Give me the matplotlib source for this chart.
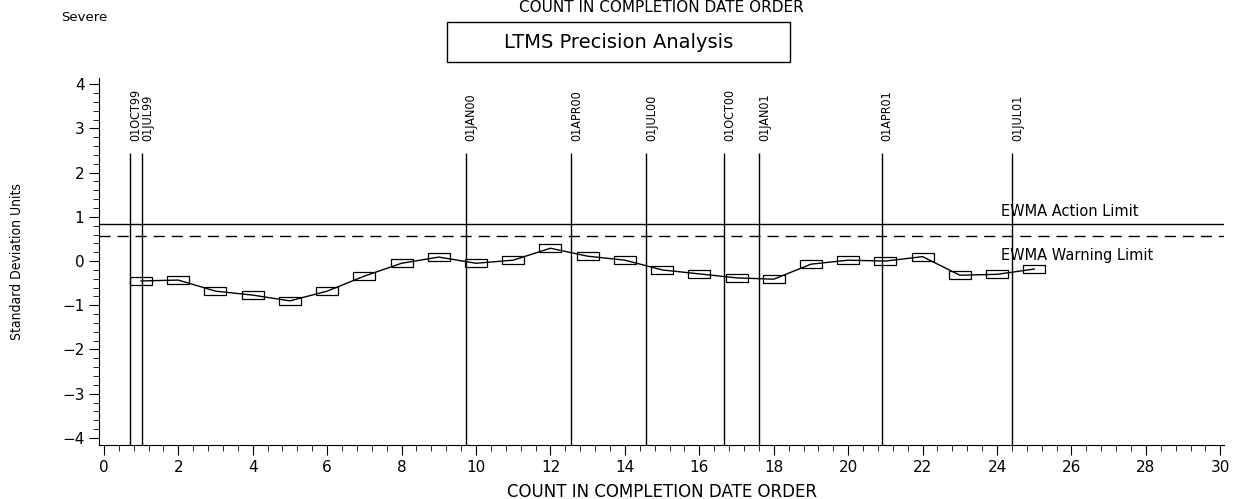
import numpy as np
import matplotlib.pyplot as plt
from matplotlib.patches import Rectangle
from matplotlib.ticker import MultipleLocator

# data
count = list(range(1, 26))
ewma = [-0.45, -0.43, -0.68, -0.77, -0.90, -0.68, -0.34, -0.05, 0.09, -0.05,
        0.02, 0.29, 0.11, 0.02, -0.20, -0.29, -0.38, -0.41, -0.07, 0.02,
        0.00, 0.10, -0.32, -0.30, -0.18]

date_pos = [0.70, 1.02, 9.72, 12.55, 14.57, 16.67, 17.60, 20.90, 24.40]
date_lbl = ["01OCT99", "01JUL99", "01JAN00", "01APR00", "01JUL00",
            "01OCT00", "01JAN01", "01APR01", "01JUL01"]

action_limit = 0.84
warning_limit = 0.57

fig = plt.figure(figsize=(12.47, 4.99), dpi=100)
ax = fig.add_axes([0.0794, 0.1082, 0.9816 - 0.0794, 0.8437 - 0.1082])

ax.set_xlim(-0.13, 30.1)
ax.set_ylim(-4.16, 4.14)

ax.axhline(action_limit, color="black", lw=1.0)
ax.axhline(warning_limit, color="black", lw=1.0, dashes=(8, 5))

ax.vlines(date_pos, -4.16, 2.44, color="black", lw=1.0)
for xp, lb in zip(date_pos, date_lbl):
    ax.text(xp + 0.15, 2.72, lb, rotation=90, ha="center", va="bottom",
            fontsize=9, family="DejaVu Sans", fontstretch="condensed")

box = [(-1, -0.38), (1, -0.38), (1, 0.38), (-1, 0.38), (-1, -0.38)]
ax.plot(count, ewma, color="black", lw=1.0, marker=box, markersize=16,
        markerfacecolor="none", markeredgecolor="black", markeredgewidth=0.9)

ax.text(24.1, action_limit + 0.12, "EWMA Action Limit", fontsize=10.5,
        ha="left", va="bottom")
ax.text(24.1, warning_limit - 0.27, "EWMA Warning Limit", fontsize=10.5,
        ha="left", va="top")

for s in ["top", "right"]:
    ax.spines[s].set_visible(False)

ax.xaxis.set_major_locator(MultipleLocator(2))
ax.xaxis.set_minor_locator(MultipleLocator(0.4))
ax.yaxis.set_major_locator(MultipleLocator(1))
ax.yaxis.set_minor_locator(MultipleLocator(0.2))
ax.tick_params(which="major", length=7, labelsize=11)
ax.tick_params(which="minor", length=4)
ax.set_yticks(range(-4, 5))
ax.set_yticklabels(["\u22124", "\u22123", "\u22122", "\u22121", "0", "1", "2", "3", "4"])

ax.set_xlabel("COUNT IN COMPLETION DATE ORDER", fontsize=12, labelpad=6)
ax.set_ylabel("Standard Deviation Units", fontsize=10, fontstretch="condensed",
              labelpad=27)

fig.text(0.049, 0.965, "Severe", fontsize=9.5, ha="left", va="center")
fig.text(0.53, 1.0, "COUNT IN COMPLETION DATE ORDER", fontsize=11,
         ha="center", va="top")
fig.patches.append(Rectangle((0.3585, 0.8758), 0.275, 0.0802, transform=fig.transFigure,
                             fc="white", ec="black", lw=1.0))
fig.text(0.4957, 0.9158, "LTMS Precision Analysis", fontsize=14,
         ha="center", va="center")

plt.savefig("out.png", dpi=100)
